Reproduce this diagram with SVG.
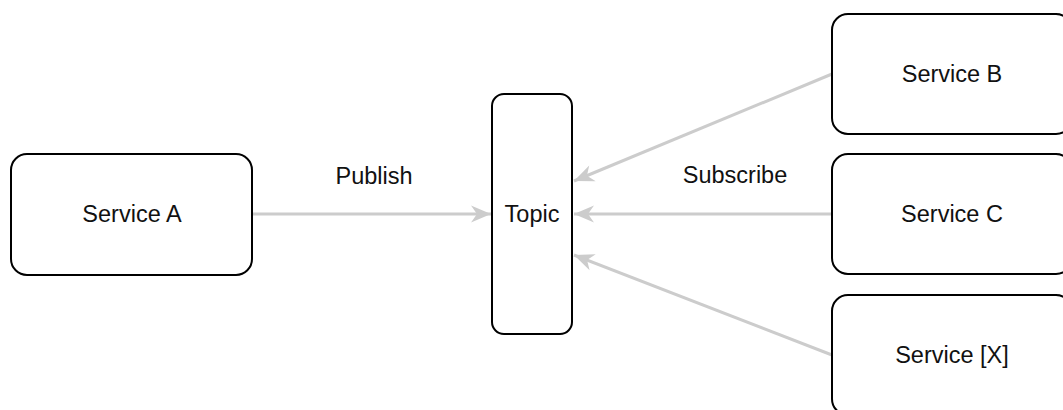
<svg xmlns="http://www.w3.org/2000/svg" width="1063" height="410" viewBox="0 0 1063 410">
<style>
.node{fill:#fff;stroke:#000;stroke-width:2}
.lbl{font-family:"Liberation Sans",Arial,sans-serif;font-size:23.5px;fill:#111;text-anchor:middle}
.edge{fill:none;stroke:#cccccc;stroke-width:3}
</style>
<defs>
<marker id="arr" markerUnits="userSpaceOnUse" markerWidth="24" markerHeight="20" viewBox="0 0 24 20" refX="21" refY="10" orient="auto">
<path d="M1,1.5 L21,10 L1,18.5 L7,10 Z" fill="#cccccc"/>
</marker>
</defs>
<rect width="1063" height="410" fill="#fff"/>
<g id="connectors">
<line class="edge" x1="252" y1="214" x2="491" y2="214" marker-end="url(#arr)"/>
<line class="edge" x1="832" y1="74" x2="574" y2="181" marker-end="url(#arr)"/>
<line class="edge" x1="832" y1="214" x2="574" y2="214" marker-end="url(#arr)"/>
<line class="edge" x1="832" y1="355" x2="574" y2="255" marker-end="url(#arr)"/>
<text class="lbl" x="374" y="184">Publish</text>
<text class="lbl" x="735" y="183">Subscribe</text>
</g>
<g id="serviceA">
<rect class="node" x="11" y="154" width="241" height="121" rx="16"/>
<text class="lbl" x="132" y="222">Service A</text>
</g>
<g id="topic">
<rect class="node" x="492" y="94" width="80" height="240" rx="12"/>
<text class="lbl" x="532" y="222">Topic</text>
</g>
<g id="serviceB">
<rect class="node" x="832" y="14" width="240" height="120" rx="16"/>
<text class="lbl" x="952" y="82">Service B</text>
</g>
<g id="serviceC">
<rect class="node" x="832" y="154" width="240" height="120" rx="16"/>
<text class="lbl" x="952" y="222">Service C</text>
</g>
<g id="serviceX">
<rect class="node" x="832" y="295" width="240" height="120" rx="16"/>
<text class="lbl" x="952" y="363">Service [X]</text>
</g>
</svg>
